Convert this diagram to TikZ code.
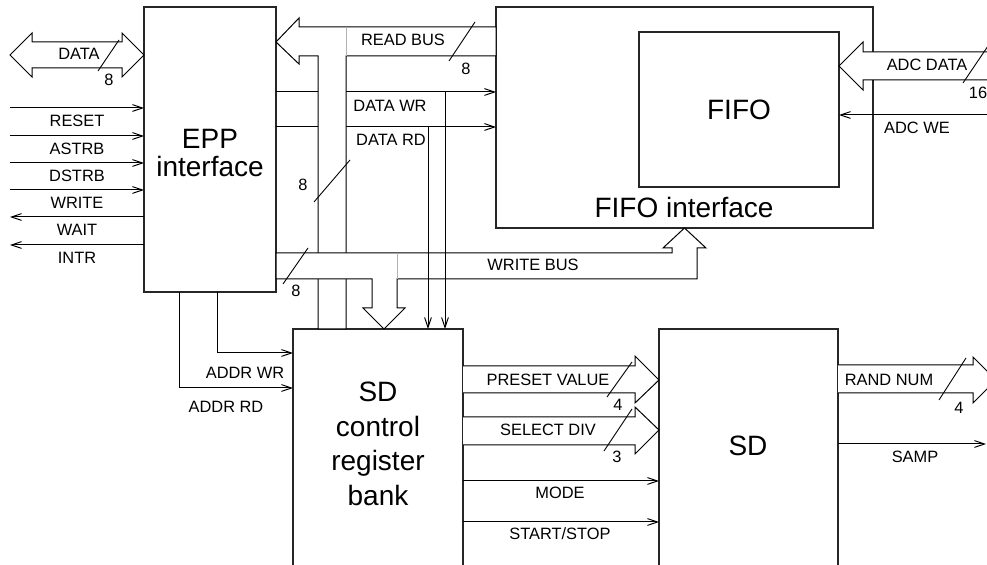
\documentclass[tikz,border=0pt]{standalone}
\usepackage{fontspec}
\setmainfont{Liberation Sans}
\usetikzlibrary{arrows.meta,calc}

\begin{document}
\begin{tikzpicture}[x=0.5pt, y=-0.5pt,
  blk/.style={draw=black!85, fill=white, line width=0.6pt, inner sep=0pt, outer sep=0pt, align=center, font=\fontsize{14}{14}\selectfont},
  big/.style={inner sep=0pt, align=center, font=\fontsize{14}{17.3}\selectfont},
  lbl/.style={inner sep=0pt, font=\fontsize{8.2}{9}\selectfont},
  sig/.style={line width=0.5pt, -{Straight Barb[length=5pt, width=3.4pt]}},
  bus/.style={draw, fill=white, line width=0.5pt},
  sep/.style={draw=black!30, line width=0.5pt},
  slash/.style={line width=0.45pt}
]
  \useasboundingbox (0,0) rectangle (987,565);
  \clip (0,0) rectangle (987,565);
  % blocks
  \node[blk, minimum width=66pt, minimum height=142.5pt] (epp) at (210,149.5) {};
  \node[blk, minimum width=188.5pt, minimum height=110.5pt] (fifoif) at (684.5,117.5) {};
  \node[blk, minimum width=100pt, minimum height=77.5pt] (fifo) at (739,109.5) {FIFO};
  \node[blk, minimum width=85pt, minimum height=123pt] (sdreg) at (378,452) {};
  \node[blk, minimum width=89.5pt, minimum height=123pt] (sd) at (748.5,452) {};
  \node[big, font=\fontsize{14}{14}\selectfont] (epptxt) at (210,153) {EPP\\interface};
  \node[big] (fifoiftxt) at (684,208) {FIFO interface};
  \node[big] (sdregtxt) at (378,444) {SD\\control\\register\\bank};
  \node[big] (sdtxt) at (748,446) {SD};
  % EPP side signals
  \foreach \y/\txt [count=\i] in {108/RESET,136/ASTRB,163/DSTRB,190/WRITE}{
    \coordinate (in\i) at (10,\y);
    \draw[sig] (in\i) -- (in\i -| epp.west);
    \node[lbl] (l\txt) at (77,\y+13) {\txt};
  }
  \foreach \y/\txt [count=\i] in {217/WAIT,245/INTR}{
    \coordinate (out\i) at (10,\y);
    \draw[sig] (out\i -| epp.west) -- (out\i);
    \node[lbl] (l\txt) at (77,\y+13) {\txt};
  }
  \draw[bus] (10,55) -- (32,33) -- (32,42) -- (122,42) -- (122,33) -- (epp.west |- 0,55)
    -- (122,77) -- (122,68) -- (32,68) -- (32,77) -- cycle;
  % data wr / rd
  \draw[sig] (epp.east |- 0,92) -- (fifoif.west |- 0,92);
  \draw[sig] (epp.east |- 0,127) -- (fifoif.west |- 0,127);
  % read bus
  \draw[bus] (epp.east |- 0,42) -- (299,18) -- (299,27) -- (fifoif.west |- 0,27) -- (fifoif.west |- 0,56)
    -- (346,56) -- (sdreg.north -| 346,0) -- (sdreg.north -| 318,0) -- (318,56) -- (299,56) -- (299,64) -- cycle;
  \draw[sep] (346,27) -- (346,56);
  % write bus
  \draw[bus] (epp.east |- 0,253) -- (672,253) -- (672,248) -- (663,248) -- (fifoif.south) -- (706,248)
    -- (697,248) -- (697,279) -- (397,279) -- (397,308) -- (405,308) -- (sdreg.north -| 384,0)
    -- (363,308) -- (372,308) -- (372,279) -- (epp.east |- 0,279) -- cycle;
  \draw[sep] (397,253) -- (397,279);
  \draw[sig] (445,92) -- (445,92 |- sdreg.north);
  \draw[sig] (428,127) -- (428,127 |- sdreg.north);
  % address strobes
  \draw[sig] (epp.south -| 217,0) |- (sdreg.west |- 0,353);
  \draw[sig] (epp.south -| 179,0) |- (sdreg.west |- 0,388);
  % register bank to SD
  \draw[bus] (sdreg.east |- 0,366) -- (635,366) -- (635,356) -- (sd.west |- 0,380) -- (635,403) -- (635,393) -- (sdreg.east |- 0,393);
  \draw[bus] (sdreg.east |- 0,417) -- (635,417) -- (635,407) -- (sd.west |- 0,430) -- (635,454) -- (635,445) -- (sdreg.east |- 0,445);
  \draw[sig] (sdreg.east |- 0,481) -- (sd.west |- 0,481);
  \draw[sig] (sdreg.east |- 0,522) -- (sd.west |- 0,522);
  % SD outputs
  \draw[bus] (sd.east |- 0,365) -- (973,365) -- (973,357) -- (996,380) -- (973,403) -- (973,393) -- (sd.east |- 0,393);
  \coordinate (samp) at (986,444);
  \draw[sig] (sd.east |- samp) -- (samp);
  % ADC side
  \draw[bus] (fifo.east |- 0,66) -- (863,42) -- (863,52) -- (995,52) -- (995,80) -- (863,80) -- (863,90) -- cycle;
  \coordinate (adcwe) at (987,115);
  \draw[sig] (adcwe) -- (adcwe -| fifo.east);
  % labels
  \node[lbl] (ldata) at (79,54) {DATA};
  \node[lbl] (lread) at (403,40) {READ BUS};
  \node[lbl] (ldwr) at (390,106) {DATA WR};
  \node[lbl] (ldrd) at (391,140) {DATA RD};
  \node[lbl] (lwrite) at (533,265) {WRITE BUS};
  \node[lbl] (ladcd) at (927,65) {ADC DATA};
  \node[lbl] (ladcwe) at (917,128) {ADC WE};
  \node[lbl] (laddrwr) at (245,373) {ADDR WR};
  \node[lbl] (laddrrd) at (226,407) {ADDR RD};
  \node[lbl] (lpreset) at (548,380) {PRESET VALUE};
  \node[lbl] (lsel) at (548,430) {SELECT DIV};
  \node[lbl] (lmode) at (560,493) {MODE};
  \node[lbl] (lstart) at (560,534) {START/STOP};
  \node[lbl] (lrand) at (889,380) {RAND NUM};
  \node[lbl] (lsamp) at (915,457) {SAMP};
  % bus widths
  \draw[slash] (98,71) -- (119,40);   \node[lbl] (w1) at (109,80) {8};
  \draw[slash] (449,61) -- (475,22);  \node[lbl] (w2) at (466,69) {8};
  \draw[slash] (314,202) -- (350,160); \node[lbl] (w3) at (303,185) {8};
  \draw[slash] (283,284) -- (308,248); \node[lbl] (w4) at (296,291) {8};
  \draw[slash] (963,83) -- (988,46);  \node[lbl] (w5) at (978,93) {16};
  \draw[slash] (607,397) -- (632,362); \node[lbl] (w6) at (618,405) {4};
  \draw[slash] (604,451) -- (632,409); \node[lbl] (w7) at (617,457) {3};
  \draw[slash] (939,400) -- (966,358); \node[lbl] (w8) at (959,408) {4};
\end{tikzpicture}
\end{document}
